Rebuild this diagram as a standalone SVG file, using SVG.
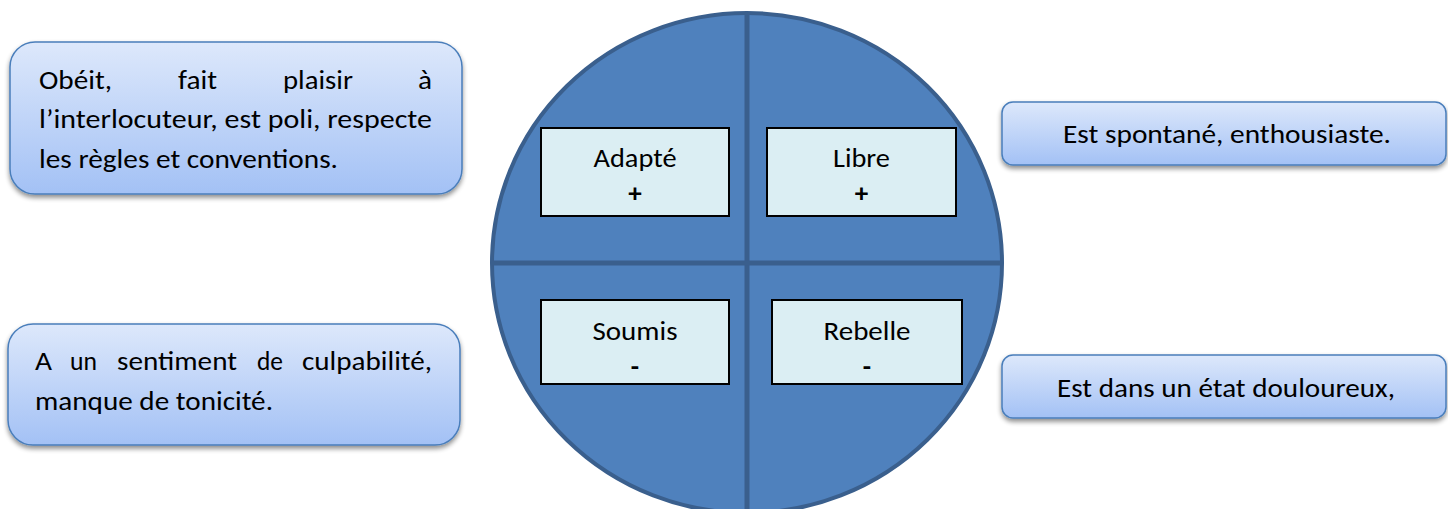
<svg xmlns="http://www.w3.org/2000/svg" width="1448" height="509" viewBox="0 0 1448 509">
<style>
.t{font-family:Carlito,Lato,"Liberation Sans",sans-serif;font-size:27px;fill:#000}
.c{text-anchor:middle}
.b{font-weight:bold}
.note{fill:url(#g);stroke:#4a7ebb;stroke-width:1.5;filter:url(#sh)}
.q{fill:#dbeef3;stroke:#000;stroke-width:2}
</style>
<defs>
<linearGradient id="g" x1="0" y1="0" x2="0" y2="1">
<stop offset="0" stop-color="#dde8fb"/>
<stop offset="1" stop-color="#a3c1f5"/>
</linearGradient>
<filter id="sh" x="-5%" y="-10%" width="110%" height="130%">
<feGaussianBlur in="SourceAlpha" stdDeviation="2.5"/>
<feOffset dx="0" dy="3" result="o"/>
<feComponentTransfer><feFuncA type="linear" slope="0.45"/></feComponentTransfer>
<feMerge><feMergeNode/><feMergeNode in="SourceGraphic"/></feMerge>
</filter>
</defs>

<g id="circle">
<ellipse cx="747" cy="263" rx="255" ry="250" fill="#4f81bd" stroke="#3a5f8d" stroke-width="4"/>
</g>
<g id="connectors">
<line x1="747" y1="14" x2="747" y2="513" stroke="#3a5f8d" stroke-width="5"/>
<line x1="492" y1="263" x2="1002" y2="263" stroke="#3a5f8d" stroke-width="5"/>
</g>

<g id="adapte">
<rect class="q" x="541" y="128" width="188" height="88"/>
<text class="t c" x="635" y="167" textLength="83" lengthAdjust="spacingAndGlyphs">Adapté</text>
<text class="t c b" x="635" y="202">+</text>
</g>
<g id="libre">
<rect class="q" x="767" y="128" width="189" height="88"/>
<text class="t c" x="861.5" y="167" textLength="57" lengthAdjust="spacingAndGlyphs">Libre</text>
<text class="t c b" x="861.5" y="202">+</text>
</g>
<g id="soumis">
<rect class="q" x="541" y="300" width="188" height="84"/>
<text class="t c" x="635" y="340" textLength="85" lengthAdjust="spacingAndGlyphs">Soumis</text>
<text class="t c b" x="635" y="375">-</text>
</g>
<g id="rebelle">
<rect class="q" x="772" y="300" width="190" height="84"/>
<text class="t c" x="867" y="340" textLength="87" lengthAdjust="spacingAndGlyphs">Rebelle</text>
<text class="t c b" x="867" y="375">-</text>
</g>

<g id="note-adapte">
<rect class="note" x="10" y="42" width="452" height="152" rx="25"/>
<text class="t" x="39" y="89" textLength="73" lengthAdjust="spacingAndGlyphs">Obéit,</text>
<text class="t" x="178" y="89" textLength="39" lengthAdjust="spacingAndGlyphs">fait</text>
<text class="t" x="283" y="89" textLength="70" lengthAdjust="spacingAndGlyphs">plaisir</text>
<text class="t" x="418" y="89" textLength="14" lengthAdjust="spacingAndGlyphs">à</text>
<text class="t" x="39" y="128" textLength="393" lengthAdjust="spacingAndGlyphs">l’interlocuteur, est poli, respecte</text>
<text class="t" x="39" y="168" textLength="299" lengthAdjust="spacingAndGlyphs">les règles et conventions.</text>
</g>

<g id="note-soumis">
<rect class="note" x="8" y="324" width="452" height="121" rx="25"/>
<text class="t" x="35" y="370" textLength="17" lengthAdjust="spacingAndGlyphs">A</text>
<text class="t" x="70" y="370" textLength="27" lengthAdjust="spacingAndGlyphs">un</text>
<text class="t" x="117" y="370" textLength="120" lengthAdjust="spacingAndGlyphs">sentiment</text>
<text class="t" x="257" y="370" textLength="26" lengthAdjust="spacingAndGlyphs">de</text>
<text class="t" x="302" y="370" textLength="130" lengthAdjust="spacingAndGlyphs">culpabilité,</text>
<text class="t" x="35" y="410" textLength="238" lengthAdjust="spacingAndGlyphs">manque de tonicité.</text>
</g>

<g id="note-libre">
<rect class="note" x="1002" y="102" width="444" height="63" rx="11"/>
<text class="t c" x="1227" y="143" textLength="328" lengthAdjust="spacingAndGlyphs">Est spontané, enthousiaste.</text>
</g>

<g id="note-rebelle">
<rect class="note" x="1002" y="355" width="444" height="63" rx="11"/>
<text class="t c" x="1226" y="397" textLength="338" lengthAdjust="spacingAndGlyphs">Est dans un état douloureux,</text>
</g>
</svg>
